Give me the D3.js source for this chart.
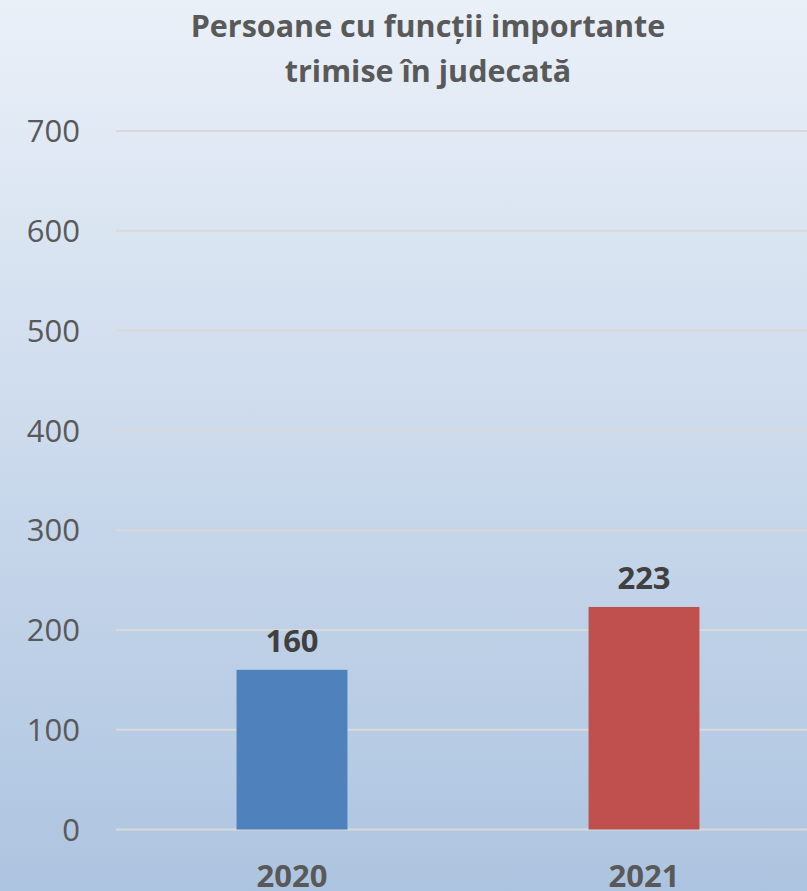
<!DOCTYPE html>
<html>
<head>
<meta charset="utf-8">
<script src="https://cdn.jsdelivr.net/npm/d3@7"></script>
<style>
  html, body { margin: 0; padding: 0; overflow: hidden; }
  text { font-family: "Open Sans", "DejaVu Sans", sans-serif; }
</style>
</head>
<body>
<div id="chart"></div>
<script>
const categories = ['2020', '2021'];
const values = [160, 223];
const barColors = ['#4f81bd', '#c0504d'];
const yTicks = [0, 100, 200, 300, 400, 500, 600, 700];
const titleLines = ['Persoane cu funcții importante', 'trimise în judecată'];

const width = 807;
const height = 891;

const svg = d3.select('#chart').append('svg')
  .attr('width', width)
  .attr('height', height);

// background gradient
const grad = svg.append('defs').append('linearGradient')
  .attr('id', 'bg')
  .attr('x1', 0).attr('y1', 0).attr('x2', 0).attr('y2', 1);
grad.append('stop').attr('offset', '0%').attr('stop-color', '#eaf0f8');
grad.append('stop').attr('offset', '100%').attr('stop-color', '#adc4e0');
svg.append('rect')
  .attr('width', width).attr('height', height)
  .attr('fill', 'url(#bg)');

const y = d3.scaleLinear().domain([0, 700]).range([829.5, 131]);
const x = d3.scaleBand().domain(categories).range([116, 820]).padding(0);
const barW = x.bandwidth() * 0.315;

// gridlines
svg.append('g')
  .selectAll('line')
  .data(yTicks)
  .join('line')
  .attr('x1', 116).attr('x2', width)
  .attr('y1', (d) => y(d)).attr('y2', (d) => y(d))
  .attr('stroke', '#d9d9d9')
  .attr('stroke-width', 2);

// y tick labels
svg.append('g')
  .selectAll('text')
  .data(yTicks)
  .join('text')
  .attr('x', 80)
  .attr('y', (d) => y(d))
  .attr('dy', '0.36em')
  .attr('text-anchor', 'end')
  .attr('font-size', 31)
  .attr('fill', '#595959')
  .text((d) => d);

// bars
svg.append('g')
  .selectAll('rect')
  .data(values)
  .join('rect')
  .attr('x', (d, i) => x(categories[i]) + x.bandwidth() / 2 - barW / 2)
  .attr('width', barW)
  .attr('y', (d) => y(d))
  .attr('height', (d) => y(0) - y(d))
  .attr('fill', (d, i) => barColors[i]);

// data labels
svg.append('g')
  .selectAll('text')
  .data(values)
  .join('text')
  .attr('x', (d, i) => x(categories[i]) + x.bandwidth() / 2)
  .attr('y', (d) => y(d) - 18)
  .attr('text-anchor', 'middle')
  .attr('font-size', 31)
  .attr('font-weight', 'bold')
  .attr('fill', '#404040')
  .text((d) => d);

// category labels
svg.append('g')
  .selectAll('text')
  .data(categories)
  .join('text')
  .attr('x', (d) => x(d) + x.bandwidth() / 2)
  .attr('y', 887)
  .attr('text-anchor', 'middle')
  .attr('font-size', 31)
  .attr('font-weight', 'bold')
  .attr('fill', '#595959')
  .text((d) => d);

// title
svg.append('g')
  .selectAll('text')
  .data(titleLines)
  .join('text')
  .attr('x', 428)
  .attr('y', (d, i) => 37 + i * 45)
  .attr('text-anchor', 'middle')
  .attr('font-size', 30.5)
  .attr('font-weight', 'bold')
  .attr('fill', '#595959')
  .text((d) => d);
</script>
</body>
</html>
